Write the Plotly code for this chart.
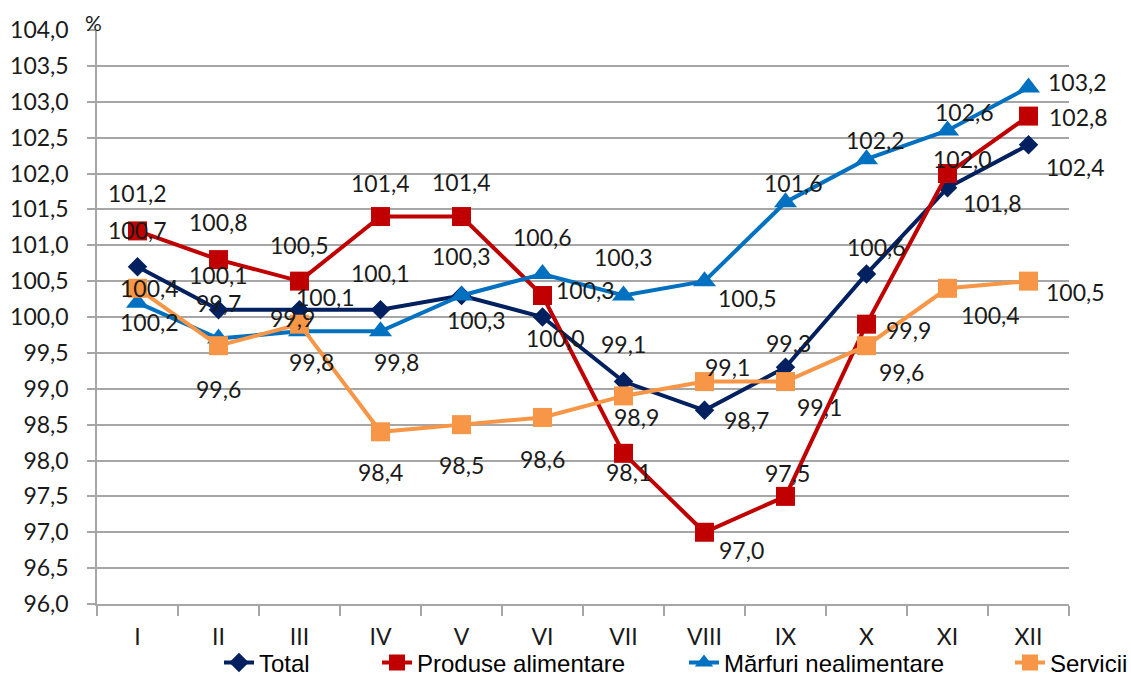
import plotly.graph_objects as go

# ---- data ----
months = ["I", "II", "III", "IV", "V", "VI", "VII", "VIII", "IX", "X", "XI", "XII"]
total = [100.7, 100.1, 100.1, 100.1, 100.3, 100.0, 99.1, 98.7, 99.3, 100.6, 101.8, 102.4]
produse = [101.2, 100.8, 100.5, 101.4, 101.4, 100.3, 98.1, 97.0, 97.5, 99.9, 102.0, 102.8]
marfuri = [100.2, 99.7, 99.8, 99.8, 100.3, 100.6, 100.3, 100.5, 101.6, 102.2, 102.6, 103.2]
servicii = [100.4, 99.6, 99.9, 98.4, 98.5, 98.6, 98.9, 99.1, 99.1, 99.6, 100.4, 100.5]
series_names = ["Total", "Produse alimentare", "Mărfuri nealimentare", "Servicii"]

# ---- styles ----
colors = ["#002060", "#C00000", "#0070C0", "#F79646"]
symbols = ["diamond", "square", "triangle-up", "square"]
msizes = [15, 19, 20, 19]
# label offsets in px (dx right, dy down) per point
label_offsets = [
    [(0, -37), (0, -35), (26, -13), (0, -37), (0, -39), (13, 21), (0, -38), (42, 10), (3, -24), (10, -27), (45, 15), (47, 22)],
    [(0, -38), (0, -38), (0, -36), (0, -34), (0, -35), (43, -5), (5, 19), (37, 18), (2, -23), (42, 6), (15, -15), (50, 1)],
    [(12, 19), (0, -36), (12, 31), (16, 31), (15, 25), (0, -37), (0, -38), (43, 17), (8, -19), (9, -19), (17, -18), (49, -5)],
    [(12, 0), (0, 43), (-7, -6), (0, 40), (0, 40), (0, 42), (13, 21), (23, -15), (34, 25), (35, 26), (43, 27), (47, 11)],
]
legend_ids = ["legend", "legend2", "legend3", "legend4"]
legend_text_px = [261, 419, 726, 1052]

W, H = 1131, 676
L, R, T, B = 97, 62, 30, 72
PW, PH = W - L - R, H - T - B
grid = "#A6A6A6"
label_font = dict(family="Lato", size=23, color="#1a1a1a")

fig = go.Figure()
all_series = [total, produse, marfuri, servicii]
for i, vals in enumerate(all_series):
    fig.add_trace(go.Scatter(
        x=months, y=vals, mode="lines+markers", name=series_names[i],
        line=dict(color=colors[i], width=4),
        marker=dict(symbol=symbols[i], size=msizes[i], color=colors[i]),
        legend=legend_ids[i],
    ))

annotations = []
for i, vals in enumerate(all_series):
    for j, v in enumerate(vals):
        dx, dy = label_offsets[i][j]
        annotations.append(dict(
            x=months[j], y=v, xref="x", yref="y",
            text=f"{v:.1f}".replace(".", ","), showarrow=False,
            xshift=dx, yshift=-dy, font=label_font,
            xanchor="center", yanchor="middle",
        ))
annotations.append(dict(
    x=(93 - L) / PW, y=(H - B - 23) / PH, xref="paper", yref="paper",
    text="%", showarrow=False, font=dict(family="Lato", size=21, color="#1a1a1a"),
    xanchor="center", yanchor="middle",
))

legend_common = dict(
    orientation="h", yanchor="middle", xanchor="left",
    y=(H - B - 663) / PH,
    font=dict(family="Liberation Sans", size=24, color="#000000"),
    bgcolor="rgba(0,0,0,0)", borderwidth=0,
)
layout_legends = {}
for k, lid in enumerate(legend_ids):
    layout_legends[lid] = dict(legend_common, x=(legend_text_px[k] - 42 - L) / PW)

fig.update_layout(
    width=W, height=H,
    margin=dict(l=L, r=R, t=T, b=B, autoexpand=False),
    paper_bgcolor="white", plot_bgcolor="white",
    separators=",.",
    showlegend=True,
    annotations=annotations,
    **layout_legends,
)
fig.update_xaxes(
    type="category", range=[-0.5, 11.5],
    showline=True, linecolor=grid, linewidth=1.5,
    showgrid=False, ticks="outside", tickson="boundaries",
    ticklen=10, tickcolor=grid, tickwidth=1.5,
    tickfont=dict(family="Lato", size=23, color="#1a1a1a"),
    ticklabelstandoff=12,
)
fig.update_yaxes(
    range=[96, 104], dtick=0.5, tick0=96, tickformat=".1f",
    showline=True, linecolor=grid, linewidth=1.5,
    showgrid=True, gridcolor=grid, gridwidth=1.5,
    ticks="outside", ticklen=8, tickcolor=grid, tickwidth=1.5,
    tickfont=dict(family="Lato", size=23, color="#1a1a1a"),
    ticklabelstandoff=14, zeroline=False,
)

fig.write_html("out.html", config={"displayModeBar": False},
               post_script="document.body.style.margin='0';")
